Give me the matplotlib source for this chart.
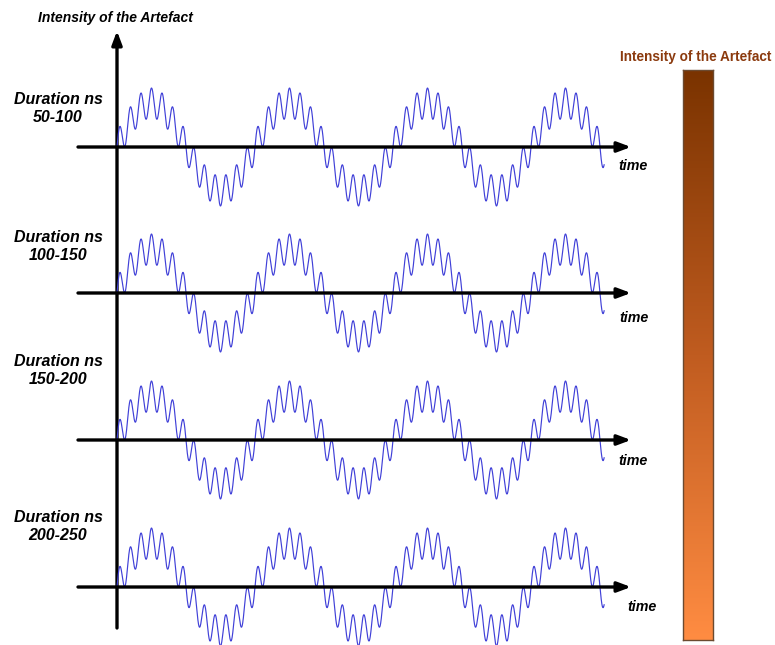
import numpy as np
import matplotlib
matplotlib.use('Agg')
import matplotlib.pyplot as plt
from matplotlib.colors import LinearSegmentedColormap

plt.rcParams['font.family'] = ['Liberation Sans', 'DejaVu Sans']

# data
durations = ['50-100', '100-150', '150-200', '200-250']
carrier_cycles = 3.53          # cycles of the slow wave shown in each row
ripples_per_cycle = 13         # fast ripples per slow cycle
carrier_amp = 1.0
ripple_amp = 0.34
bar_colors = ['#7a3300', '#c05c20', '#ff8c42']   # top -> bottom

W, H = 775, 645
fig = plt.figure(figsize=(W / 100, H / 100), dpi=100)

# overlay axes in pixel space for the arrows and text
ov = fig.add_axes([0, 0, 1, 1])
ov.set_xlim(0, W)
ov.set_ylim(H, 0)
ov.axis('off')

x0 = 117      # time origin (px)
period = 138  # px per slow cycle
amp_px = 44   # px per amplitude unit
baselines = [147, 293, 440, 587]
label_y = [108, 247, 370, 526]
time_pos = [(633, 166), (634, 318), (633, 461), (642, 607)]

t = np.linspace(0, carrier_cycles, 3000)
sig = carrier_amp * np.sin(2 * np.pi * t) + ripple_amp * np.sin(2 * np.pi * ripples_per_cycle * t)

xl = ((78 - x0) / period, (640 - x0) / period)
for i, base in enumerate(baselines):
    ax = fig.add_axes([78 / W, 1 - (base + 75) / H, (640 - 78) / W, 150 / H])
    ax.set_xlim(*xl)
    ax.set_ylim(-75 / amp_px, 75 / amp_px)
    ax.axis('off')
    ax.patch.set_alpha(0)
    ax.plot(t, sig, color='#4040d8', lw=0.85, clip_on=False)
    ax.annotate('', xy=((631 - x0) / period, 0), xytext=(xl[0], 0),
                arrowprops=dict(arrowstyle='-|>,head_length=0.8,head_width=0.3',
                                color='black', lw=2.4, shrinkA=0, shrinkB=0))
    ov.text(58, label_y[i], 'Duration ns\n' + durations[i], ha='center', va='center',
            fontsize=11.5, fontweight='bold', style='italic', linespacing=1.25)
    ov.text(time_pos[i][0], time_pos[i][1], 'time', ha='center', va='center',
            fontsize=10.3, fontweight='bold', style='italic')

# vertical axis
ov.annotate('', xy=(117, 31), xytext=(117, 628),
            arrowprops=dict(arrowstyle='-|>,head_length=0.8,head_width=0.3',
                            color='black', lw=2.4, shrinkA=0, shrinkB=0))
ov.text(115, 18, 'Intensity of the Artefact', ha='center', va='center',
        fontsize=10, fontweight='bold', style='italic')

# colour bar
cmap = LinearSegmentedColormap.from_list('art', bar_colors)
cb = fig.add_axes([683 / W, 1 - 640 / H, 30 / W, 570 / H])
cb.imshow(np.linspace(0, 1, 256)[:, None], aspect='auto', cmap=cmap)
cb.set_xticks([])
cb.set_yticks([])
for s in cb.spines.values():
    s.set_color('#6b4a30')
    s.set_linewidth(1.0)
ov.text(696, 57, 'Intensity of the Artefact', ha='center', va='center',
        fontsize=9.8, fontweight='bold', color='#8b3a0e')

fig.savefig('out.png', dpi=100)
